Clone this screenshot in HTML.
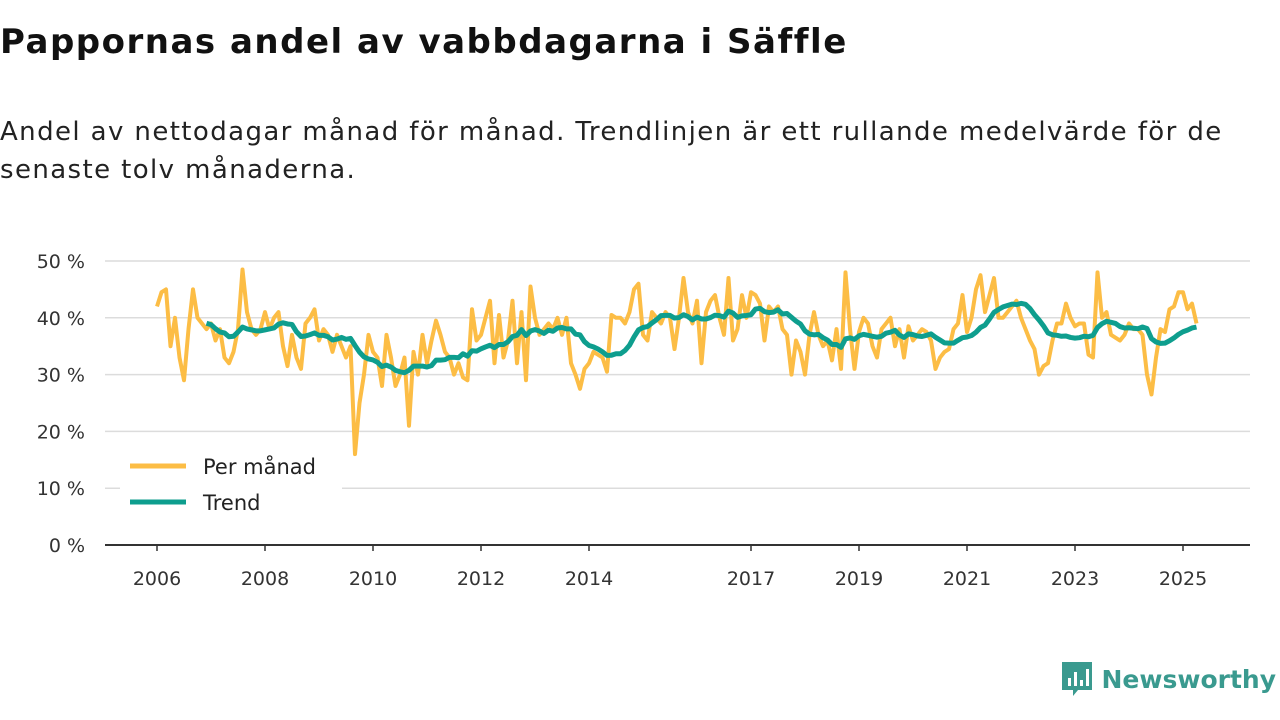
<!DOCTYPE html>
<html><head><meta charset="utf-8"><style>
body{margin:0;width:1280px;height:720px;background:#fff;font-family:"DejaVu Sans","Liberation Sans",sans-serif;overflow:hidden;position:relative}
#title{position:absolute;left:0;top:22px;font-size:34px;font-weight:bold;color:#111;margin:0;letter-spacing:1.5px}
#sub{position:absolute;left:0;top:113px;font-size:26px;line-height:38px;color:#222;width:1275px;letter-spacing:1.4px}
#logo{position:absolute;right:4px;bottom:22px;font-size:25px;font-weight:bold;color:#3a9a8f;display:flex;align-items:center;gap:8px}
</style></head><body>
<h1 id="title">Pappornas andel av vabbdagarna i Säffle</h1>
<div id="sub">Andel av nettodagar månad för månad. Trendlinjen är ett rullande medelvärde för de<br>senaste tolv månaderna.</div>
<svg id="chart" width="1280" height="720" style="position:absolute;left:0;top:0"></svg>
<div id="logo"><svg width="34" height="38" viewBox="0 0 34 38"><path d="M2 2h30v28H18l-5 6v-6H2z" fill="#3a9a8f"/><rect x="8" y="18" width="3" height="8" fill="#fff"/><rect x="14" y="12" width="3" height="14" fill="#fff"/><rect x="20" y="20" width="3" height="6" fill="#fff"/><rect x="26" y="9" width="3" height="17" fill="#fff"/></svg><span>Newsworthy</span></div>
<script>
const yTicks=[0,10,20,30,40,50];
const xTickYears=[2006,2008,2010,2012,2014,2017,2019,2021,2023,2025];
const startYear=2006;
const perManad=[
42,44.5,45,35,40,33,29,38,45,40,39,38,
39,36,38,33,32,34,38,48.5,41,38,37,38,
41,38,40,41,35,31.5,37,33,31,39,40,41.5,
36,38,37,34,37,35,33,35,16,25,30,37,
34,33,28,37,33,28,30,33,21,34,30,37,
32,36,39.5,37,34,33,30,32,29.5,29,41.5,36,
37,40,43,32,40.5,33,36,43,32,41,29,45.5,
40,37,38,39,38,40,37,40,32,30,27.5,31,
32,34,33.5,33,30.5,40.5,40,40,39,41,45,46,
37,36,41,40,39,41,40,34.5,40,47,41,39,
43,32,41,43,44,40,37,47,36,38,44,40,
44.5,44,42.5,36,42,41,42,38,37,30,36,34,
30,37,41,37,35,36,32.5,38,31,48,38,31,
37.5,40,39,35,33,38,39,40,35,38,33,38.5,
36,37,38,37.5,36,31,33,34,34.5,38,39,44,
37.5,40,45,47.5,41,44,47,40,40,41,42,43,
40,38,36,34.5,30,31.5,32,36,39,39,42.5,40,
38.5,39,39,33.5,33,48,40,41,37,36.5,36,37,
39,38,38,37,30,26.5,33,38,37.5,41.5,42,44.5,
44.5,41.5,42.5,39];
const trend=perManad.map((v,i)=>i<11?null:perManad.slice(i-11,i+1).reduce((a,b)=>a+b,0)/12);
const NS="http://www.w3.org/2000/svg";
const svg=document.getElementById('chart');
const X0=157,PXY=54,Y0=545,PXP=5.68;
const xm=m=>X0+m*PXY/12, xy=y=>X0+(y-startYear)*PXY, yv=v=>Y0-v*PXP;
function mk(t,a){const e=document.createElementNS(NS,t);for(const k in a)e.setAttribute(k,a[k]);svg.appendChild(e);return e;}
yTicks.forEach(t=>{
 if(t>0){const g=mk('line',{x1:105,x2:1250,y1:yv(t),y2:yv(t),stroke:'#dcdcdc','stroke-width':1.5});
 
 }
 const l=mk('text',{x:85,y:yv(t)+7,'text-anchor':'end','font-size':19,fill:'#333'});l.textContent=t+' %';
 
 
});
const ax=mk('line',{x1:105,x2:1250,y1:Y0,y2:Y0,stroke:'#333','stroke-width':2});


xTickYears.forEach(y=>{
 const tk=mk('line',{x1:xy(y),x2:xy(y),y1:Y0,y2:Y0+6,stroke:'#333','stroke-width':1.5});
 
 
 const l=mk('text',{x:xy(y),y:Y0+40,'text-anchor':'middle','font-size':19,fill:'#333'});l.textContent=y;
 
 
});
const p1=mk('polyline',{points:perManad.map((v,i)=>xm(i)+','+yv(v)).join(' '),fill:'none',stroke:'#fcbd45','stroke-width':4,'stroke-linejoin':'round'});


const p2=mk('polyline',{points:trend.map((v,i)=>v==null?null:xm(i)+','+yv(v)).filter(Boolean).join(' '),fill:'none',stroke:'#0e9e8e','stroke-width':5,'stroke-linejoin':'round'});


const lb=mk('rect',{x:120,y:446,width:222,height:44,fill:'#fff'});


[['Per månad','#fcbd45',466],['Trend','#0e9e8e',502]].forEach(([n,c,y])=>{
 const l=mk('line',{x1:130,x2:186,y1:y,y2:y,stroke:c,'stroke-width':5});
 
 
 const t=mk('text',{x:203,y:y+8,'font-size':21,fill:'#222'});t.textContent=n;
 
 
});
</script>
</body></html>
